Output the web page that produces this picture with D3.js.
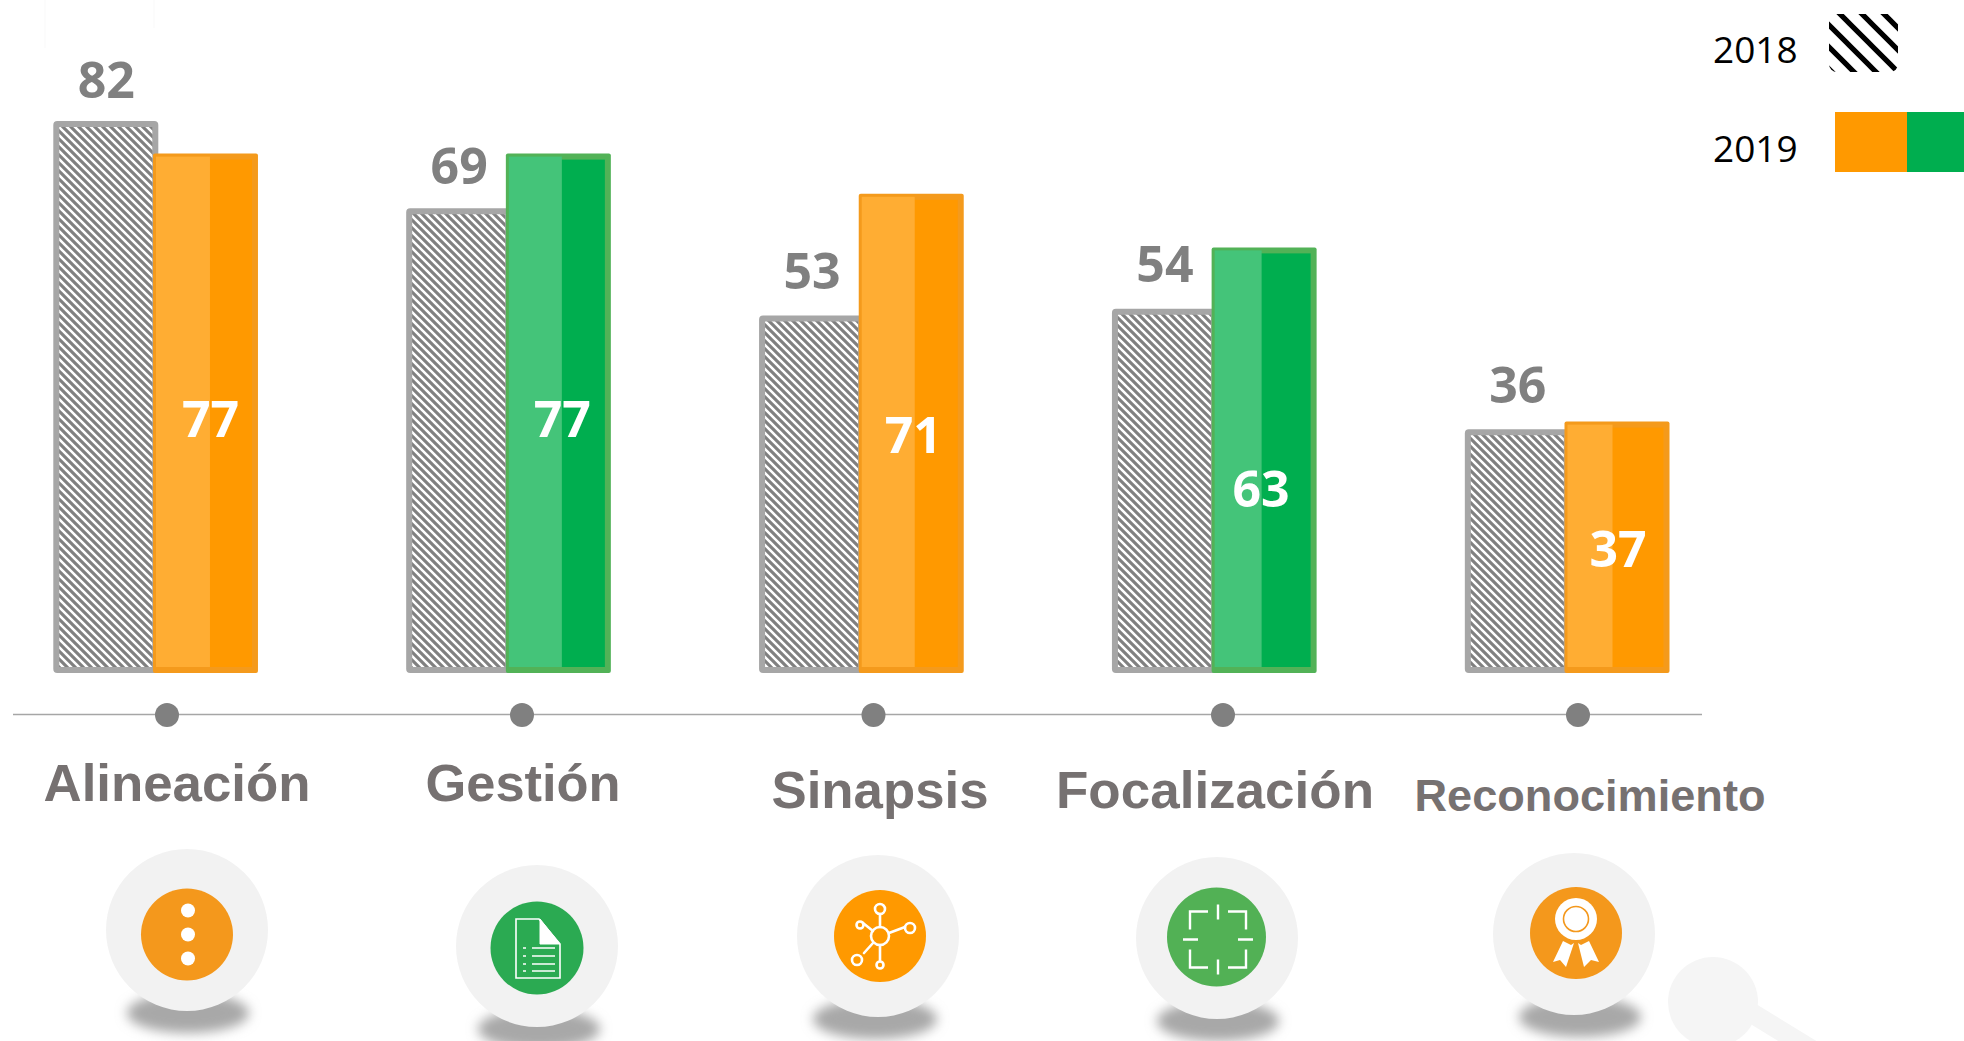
<!DOCTYPE html>
<html><head><meta charset="utf-8">
<script src="https://cdn.jsdelivr.net/npm/d3@7/dist/d3.min.js"></script>
<style>html,body{margin:0;padding:0;background:#fff;overflow:hidden}svg{display:block}</style>
</head><body><svg id="c" width="1964" height="1041"></svg>
<script>
const categories = ["Alineación","Gestión","Sinapsis","Focalización","Reconocimiento"];
const values2018 = [82,69,53,54,36];
const values2019 = [77,77,71,63,37];
const colorKeys2019 = ["orange","green","orange","green","orange"];
const legendYears = ["2018","2019"];

const palette = {
  orange:{solid:"#FF9900",light:"#FFAD33",edge:"#F49A1C"},
  green:{solid:"#00AE4F",light:"#44C479",edge:"#52B257"}
};
const labelLayout = [
  {x:177,y:801,size:52,len:267},
  {x:523,y:801,size:52,len:195},
  {x:880,y:808,size:52,len:217},
  {x:1215,y:808,size:52,len:318},
  {x:1590,y:811,size:44,len:351}
];
const dotX = [167,522,873.5,1223,1578];
const badges = [
  {cx:187,cy:930,ix:187,iy:934.5,ir:46,c:"#F4981C",sx:188,rx:61},
  {cx:537,cy:946,ix:537,iy:948,ir:46.5,c:"#2BAA52",sx:539,rx:61},
  {cx:878,cy:936,ix:880,iy:936,ir:46,c:"#FF9900",sx:875,rx:62},
  {cx:1217,cy:938,ix:1216.5,iy:937,ir:49.5,c:"#52B155",sx:1218,rx:61},
  {cx:1574,cy:934,ix:1576,iy:933,ir:46,c:"#F4981C",sx:1580,rx:61}
];
const labelDy2018 = [-1,-2,-4,-5,-4];
const labelDy2019 = [5,5,1,29,1];
const labelDx2019 = [5,4,2,-3,1];
const lightWidths = [57,56,56,50,48];

const svg = d3.select("#c");
const defs = svg.append("defs");
function stripes(id,period,sw,color){
  const p = defs.append("pattern").attr("id",id).attr("patternUnits","userSpaceOnUse")
    .attr("width",period).attr("height",period);
  p.append("rect").attr("width",period).attr("height",period).attr("fill","#fff");
  p.append("path").attr("d",`M${-period},0L${period},${2*period}M0,${-period}L${2*period},${period}M${-period},${-period}L${2*period},${2*period}`)
    .attr("stroke",color).attr("stroke-width",sw).attr("fill","none");
}
stripes("hatch",8,3.1,"#808080");
stripes("hatchLegend",22,5.2,"#000");
defs.append("filter").attr("id","blur").attr("x","-30%").attr("y","-80%").attr("width","160%").attr("height","260%")
  .append("feGaussianBlur").attr("stdDeviation",6);

const x = d3.scaleBand().domain(categories).range([53.3,1669.5]).paddingInner(0.42).paddingOuter(0);
const y = d3.scaleLinear().domain([0,100]).range([670.5,0.5]);
const base = 673;
const barW = 105, sw = 6;
const textFont = "'Open Sans',sans-serif";

svg.append("path").attr("d","M45,0V48M154,0V28").attr("stroke","#FBFBFB").attr("stroke-width",1.5).attr("fill","none");

svg.append("circle").attr("cx",1713).attr("cy",1002).attr("r",45).attr("fill","#F5F5F5");
svg.append("path").attr("d","M1750,1012L1812,1050").attr("stroke","#F5F5F5").attr("stroke-width",20);

const rows = categories.map((c,i)=>({c,i,a:values2018[i],b:values2019[i],k:colorKeys2019[i]}));
svg.append("g").selectAll("rect").data(rows).join("rect")
  .attr("x",d=>x(d.c)+sw/2).attr("y",d=>y(d.a)+sw/2)
  .attr("width",barW-sw).attr("height",d=>base-y(d.a)-sw)
  .attr("rx",1)
  .attr("fill","url(#hatch)").attr("stroke","#A6A6A6").attr("stroke-width",sw);

const g19 = svg.append("g").selectAll("g").data(rows).join("g")
  .attr("transform",d=>`translate(${x(d.c)+x.bandwidth()-barW},0)`);
g19.append("rect").attr("x",0).attr("width",barW).attr("y",d=>y(d.b)-1).attr("height",d=>base-y(d.b)+1)
  .attr("rx",2).attr("fill",d=>palette[d.k].edge);
g19.append("rect").attr("x",sw).attr("width",barW-2*sw).attr("y",d=>y(d.b)+sw-1).attr("height",d=>base-y(d.b)-2*sw+1)
  .attr("fill",d=>palette[d.k].solid);
g19.append("rect").attr("x",3).attr("width",d=>lightWidths[d.i]-3).attr("y",d=>y(d.b)+2).attr("height",d=>base-y(d.b)-8)
  .attr("fill",d=>palette[d.k].light);

svg.append("g").selectAll("text").data(rows).join("text")
  .attr("x",d=>x(d.c)+barW/2+0.5).attr("y",d=>y(d.a)-22+labelDy2018[d.i]).attr("text-anchor","middle")
  .attr("font-family",textFont).attr("font-weight",700).attr("font-size",50).attr("fill","#808080")
  .text(d=>d.a);
svg.append("g").selectAll("text").data(rows).join("text")
  .attr("x",d=>x(d.c)+x.bandwidth()-barW/2+labelDx2019[d.i]).attr("y",d=>y(d.b/2)+19+labelDy2019[d.i]).attr("text-anchor","middle")
  .attr("font-family",textFont).attr("font-weight",700).attr("font-size",50).attr("fill","#fff")
  .text(d=>d.b);

svg.append("line").attr("x1",13).attr("x2",1702).attr("y1",714.5).attr("y2",714.5).attr("stroke","#A6A6A6").attr("stroke-width",1.5);
svg.append("g").selectAll("circle").data(dotX).join("circle").attr("cx",d=>d).attr("cy",715).attr("r",12).attr("fill","#808080");

svg.append("g").selectAll("text").data(categories).join("text")
  .attr("x",(d,i)=>labelLayout[i].x).attr("y",(d,i)=>labelLayout[i].y).attr("text-anchor","middle")
  .attr("font-family","'Liberation Sans',Arial,sans-serif").attr("font-weight",700)
  .attr("font-size",(d,i)=>labelLayout[i].size).attr("fill","#767171")
  .attr("textLength",(d,i)=>labelLayout[i].len).attr("lengthAdjust","spacingAndGlyphs")
  .text(d=>d);

const bg = svg.append("g").selectAll("g").data(badges).join("g");
bg.append("ellipse").attr("cx",d=>d.sx).attr("cy",d=>d.cy+83).attr("rx",d=>d.rx).attr("ry",20).attr("fill","#A8A8A8").attr("filter","url(#blur)");
bg.append("circle").attr("cx",d=>d.cx).attr("cy",d=>d.cy).attr("r",81).attr("fill","#F2F2F2");
bg.append("circle").attr("cx",d=>d.ix).attr("cy",d=>d.iy).attr("r",d=>d.ir).attr("fill",d=>d.c);

const b0 = badges[0];
svg.append("g").selectAll("circle").data([-24,0,24]).join("circle")
  .attr("cx",b0.ix+1).attr("cy",d=>b0.iy+d).attr("r",7).attr("fill","#fff");

const b1 = badges[1];
const doc = svg.append("g").attr("transform",`translate(${b1.ix},${b1.iy})`).attr("fill","none").attr("stroke","#fff");
doc.append("path").attr("d","M-21,-29H2L23,-4V30H-21Z").attr("stroke-width",1.6);
doc.append("path").attr("d","M3,-29L23,-4H3Z").attr("fill","#fff").attr("stroke-width",1);
doc.append("path").attr("d","M-5,0H18M-5,8H18M-5,16H18M-5,23H18").attr("stroke-width",1.6);
doc.append("path").attr("d","M-14,0H-11M-14,8H-11M-14,16H-11M-14,23H-11").attr("stroke-width",1.6);

const b2 = badges[2];
const net = svg.append("g").attr("transform",`translate(${b2.ix},${b2.iy})`).attr("fill","none").attr("stroke","#fff").attr("stroke-width",2.6).attr("stroke-linecap","round");
net.append("circle").attr("r",9);
net.append("path").attr("d","M0,-9V-22M9,-3L25,-9M-7,-5L-17,-13M-7,7L-16,17M0,9V24");
net.append("circle").attr("cy",-27).attr("r",5);
net.append("circle").attr("cx",30).attr("cy",-8).attr("r",5);
net.append("circle").attr("cx",-20).attr("cy",-11).attr("r",3.5);
net.append("circle").attr("cx",-23).attr("cy",24).attr("r",5);
net.append("circle").attr("cy",29).attr("r",3.5);

const b3 = badges[3];
svg.append("path").attr("transform",`translate(${b3.ix+1.5},${b3.iy+2.5})`).attr("fill","none").attr("stroke","#fff").attr("stroke-width",2.4)
  .attr("d","M-28,-10V-28H-10M10,-28H28V-10M-28,10V28H-10M10,28H28V10M0,-35V-20M0,20V35M-35,0H-20M20,0H35");

const b4 = badges[4];
const rib = svg.append("g").attr("transform",`translate(${b4.ix},${b4.iy})`);
rib.append("path").attr("fill","#fff").attr("d","M-13,8L-5,12L-2,10L-10,34L-16,27L-23,29ZM13,8L5,12L2,10L8,34L15,27L23,29Z");
rib.append("circle").attr("cy",-14).attr("r",21).attr("fill","#fff");
rib.append("circle").attr("cy",-14).attr("r",12.5).attr("fill","#fff").attr("stroke","#F4981C").attr("stroke-width",1.6);

svg.append("g").selectAll("text").data(legendYears).join("text")
  .attr("x",1713).attr("y",(d,i)=>[63,162][i])
  .attr("font-family",textFont).attr("font-size",37).attr("fill","#000").text(d=>d);
svg.append("rect").attr("x",1829).attr("y",14).attr("width",69).attr("height",58).attr("rx",8).attr("fill","url(#hatchLegend)");
svg.append("rect").attr("x",1835).attr("y",112).attr("width",72).attr("height",60).attr("fill",palette.orange.solid);
svg.append("rect").attr("x",1907).attr("y",112).attr("width",57).attr("height",60).attr("fill",palette.green.solid);
</script></body></html>
